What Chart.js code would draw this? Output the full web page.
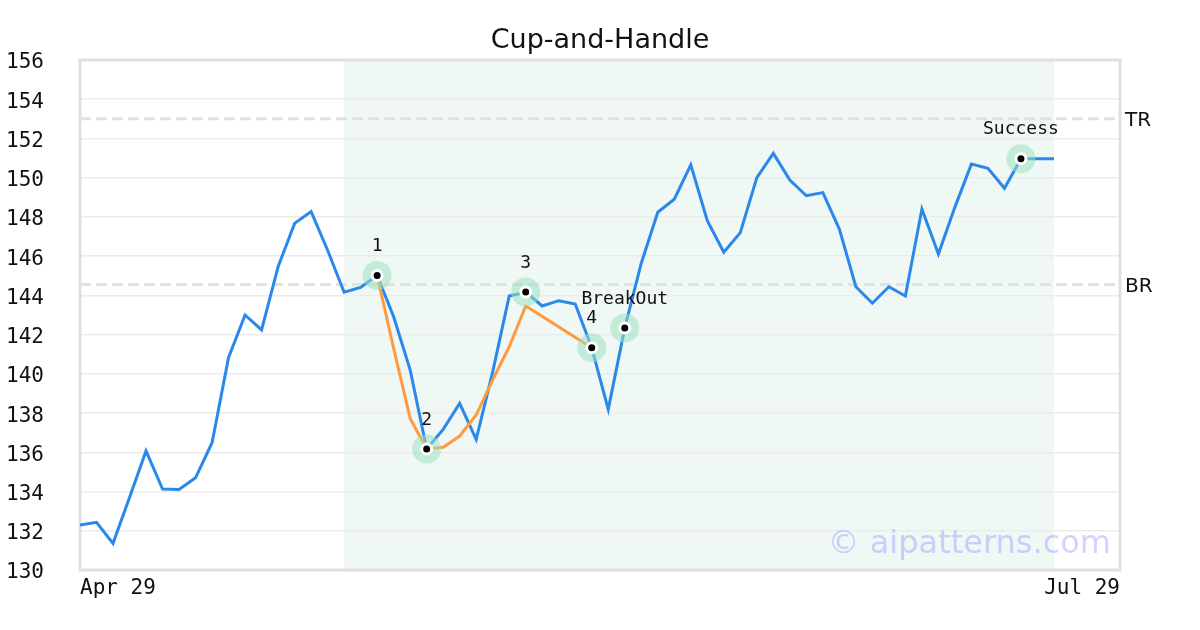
<!DOCTYPE html>
<html>
<head>
<meta charset="utf-8">
<script src="https://cdn.jsdelivr.net/npm/chart.js@4.4.1/dist/chart.umd.min.js"></script>
<style>
  html, body { margin: 0; padding: 0; background: #fff; }
</style>
</head>
<body>
<canvas id="chart" width="1200" height="630"></canvas>
<script>
// Precios de cierre (un punto por sesión)
const prices = [
  132.29, 132.43, 131.36, 133.7, 136.07, 134.13, 134.11, 134.7, 136.49, 140.84,
  143.0, 142.24, 145.46, 147.67, 148.27, 146.3, 144.16, 144.41, 145.02, 142.91,
  140.2, 136.17, 137.17, 138.5, 136.66, 140.1, 143.97, 144.17, 143.46, 143.73,
  143.56, 141.33, 138.19, 142.34, 145.64, 148.24, 148.9, 150.65, 147.81, 146.2,
  147.2, 150.0, 151.24, 149.88, 149.08, 149.24, 147.38, 144.44, 143.6, 144.44,
  143.97, 148.4, 146.11, 148.5, 150.7, 150.48, 149.46, 150.97, 150.97, 150.97
];

// Contorno de la taza y el asa
const cupIdx = [18, 19, 20, 21, 22, 23, 24, 25, 26, 27, 31];
const cupVals = [145.02, 141.3, 137.73, 136.17, 136.26, 136.83, 137.9, 139.69, 141.38, 143.46, 141.33];

// Puntos clave del patrón
const markerIdx = [18, 21, 27, 31, 33, 57];
const markerLabels = ['1', '2', '3', '4', 'BreakOut', 'Success'];

// Niveles de referencia
const levelVals = [153, 144.55];
const levelLabels = ['TR', 'BR'];

// Zona del patrón
const shadeRange = [16, 59];

const xLabels = ['Apr 29', 'Jul 29'];
const xRange = [0, 63];
const yRange = [130, 156];
const chartTitle = 'Cup-and-Handle';

const monoFont = 'DejaVu Sans Mono';
const sansFont = 'DejaVu Sans';

// Plugin: fondo sombreado, niveles, borde, etiquetas y título
const backgroundPlugin = {
  id: 'background',
  beforeDraw(chart) {
    const { ctx, chartArea, scales, width } = chart;
    const x0 = scales.x.getPixelForValue(shadeRange[0]);
    const x1 = scales.x.getPixelForValue(shadeRange[1]);
    ctx.save();
    ctx.fillStyle = '#f0f8f5';
    ctx.fillRect(x0, chartArea.top, x1 - x0, chartArea.bottom - chartArea.top);
    // título centrado en el lienzo
    ctx.fillStyle = '#111';
    ctx.font = `27px "${sansFont}"`;
    ctx.textAlign = 'center';
    ctx.textBaseline = 'middle';
    ctx.fillText(chartTitle, width / 2, 41);
    ctx.restore();
  },
  beforeDatasetsDraw(chart) {
    const { ctx, chartArea, scales } = chart;
    ctx.save();
    // líneas TR / BR
    ctx.strokeStyle = '#e2e2e2';
    ctx.lineWidth = 3;
    ctx.setLineDash([11, 5]);
    levelVals.forEach(v => {
      const y = scales.y.getPixelForValue(v);
      ctx.beginPath();
      ctx.moveTo(chartArea.left, y);
      ctx.lineTo(chartArea.right, y);
      ctx.stroke();
    });
    ctx.setLineDash([]);
    ctx.fillStyle = '#111';
    ctx.font = `20px "${sansFont}"`;
    ctx.textBaseline = 'middle';
    ctx.textAlign = 'left';
    levelVals.forEach((v, i) => {
      const y = scales.y.getPixelForValue(v);
      ctx.fillText(levelLabels[i], chartArea.right + 5, y + 2);
    });
    // borde
    ctx.strokeStyle = '#e0e0e0';
    ctx.lineWidth = 3;
    ctx.strokeRect(chartArea.left, chartArea.top, chartArea.right - chartArea.left, chartArea.bottom - chartArea.top);
    ctx.restore();
  },
  afterDatasetsDraw(chart) {
    const { ctx, scales } = chart;
    ctx.save();
    ctx.fillStyle = '#111';
    ctx.font = `18px "${monoFont}"`;
    ctx.textAlign = 'center';
    ctx.textBaseline = 'middle';
    markerIdx.forEach((idx, i) => {
      const x = scales.x.getPixelForValue(idx);
      const y = scales.y.getPixelForValue(prices[idx]);
      ctx.fillText(markerLabels[i], x, y - 29);
    });
    ctx.restore();
  },
  afterDraw(chart) {
    const { ctx, chartArea } = chart;
    ctx.save();
    ctx.fillStyle = 'rgba(110, 110, 255, 0.3)';
    ctx.font = `32px "${sansFont}"`;
    ctx.textAlign = 'right';
    ctx.textBaseline = 'middle';
    ctx.fillText('© aipatterns.com', chartArea.right - 9, chartArea.bottom - 25);
    ctx.restore();
  }
};

const markerPoints = markerIdx.map(i => ({ x: i, y: prices[i] }));

new Chart(document.getElementById('chart'), {
  type: 'line',
  data: {
    datasets: [
      {
        data: markerPoints,
        showLine: false,
        pointRadius: 5,
        pointBackgroundColor: '#000',
        pointBorderColor: '#fff',
        pointBorderWidth: 3
      },
      {
        data: markerPoints,
        showLine: false,
        pointRadius: 14.5,
        pointBackgroundColor: 'rgba(156, 224, 192, 0.55)',
        pointBorderWidth: 0
      },
      {
        data: cupIdx.map((x, i) => ({ x, y: cupVals[i] })),
        borderColor: '#ff9a40',
        borderWidth: 3,
        pointRadius: 0,
        tension: 0
      },
      {
        data: prices.map((y, x) => ({ x, y })),
        borderColor: '#2a88ea',
        borderWidth: 3,
        pointRadius: 0,
        tension: 0
      }
    ]
  },
  options: {
    responsive: false,
    animation: false,
    layout: { padding: { left: 6, right: 80, top: 60, bottom: 0 } },
    plugins: {
      legend: { display: false },
      tooltip: { enabled: false },
      title: { display: false }
    },
    scales: {
      x: {
        type: 'linear',
        min: xRange[0],
        max: xRange[1],
        grid: { display: false },
        border: { display: false },
        afterBuildTicks: s => { s.ticks = xRange.map(v => ({ value: v })); },
        afterFit: s => { s.height = 60; },
        ticks: {
          callback: (v, i) => xLabels[i],
          align: 'inner',
          autoSkip: false,
          maxRotation: 0,
          padding: -2,
          color: '#111',
          font: { family: monoFont, size: 21 }
        }
      },
      y: {
        min: yRange[0],
        max: yRange[1],
        grid: { color: '#ebebeb', lineWidth: 1.5, drawTicks: false },
        border: { display: false },
        afterFit: s => { s.width = 74; },
        ticks: {
          stepSize: 2,
          crossAlign: 'far',
          labelOffset: 3,
          color: '#111',
          font: { family: monoFont, size: 21 }
        }
      }
    }
  },
  plugins: [backgroundPlugin]
});
</script>
</body>
</html>
